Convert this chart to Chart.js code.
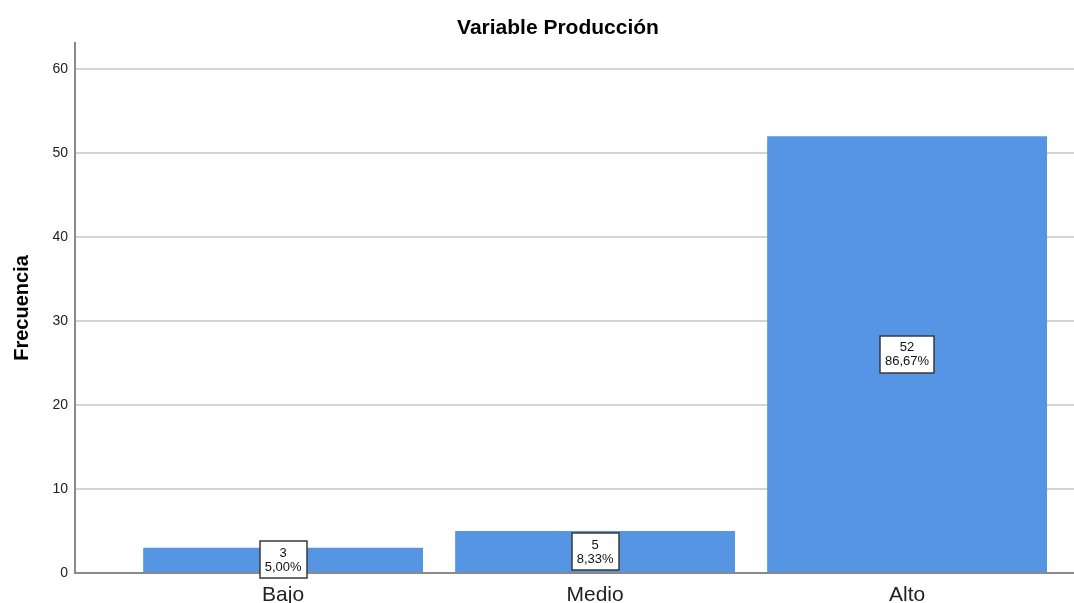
<!DOCTYPE html>
<html>
<head>
<meta charset="utf-8">
<title>Variable Producción</title>
<script src="https://cdn.jsdelivr.net/npm/chart.js@4.4.1/dist/chart.umd.min.js"></script>
<style>
  html, body { margin: 0; padding: 0; background: #ffffff; }
  #wrap { width: 1074px; height: 603px; position: relative; }
</style>
</head>
<body>
<div id="wrap"><canvas id="chart" width="1074" height="603"></canvas></div>
<script>
// Frequency table for "Variable Producción"
const categories = ['Bajo', 'Medio', 'Alto'];
const frecuencias = [3, 5, 52];
const yTicks = [0, 10, 20, 30, 40, 50, 60];
const chartTitle = 'Variable Producción';
const yTitle = 'Frecuencia';

const FONT = "'Liberation Sans', Arial, Helvetica, sans-serif";
const total = frecuencias.reduce((a, b) => a + b, 0);

function pctText(v) {
  return (v / total * 100).toFixed(2).replace('.', ',') + '%';
}

// Boxed count/percentage label at the middle of each bar
const barLabels = {
  id: 'barLabels',
  afterDatasetsDraw(chart) {
    const ctx = chart.ctx;
    const meta = chart.getDatasetMeta(0);
    ctx.save();
    ctx.font = '13px ' + FONT;
    ctx.textAlign = 'center';
    ctx.textBaseline = 'middle';
    meta.data.forEach((bar, i) => {
      const v = frecuencias[i];
      const l1 = String(v);
      const l2 = pctText(v);
      const w = Math.max(ctx.measureText(l1).width, ctx.measureText(l2).width) + 10;
      const h = 37;
      const cx = bar.x;
      const cy = (bar.y + bar.base) / 2;
      const x0 = Math.round(cx - w / 2), y0 = Math.round(cy - h / 2);
      ctx.fillStyle = '#ffffff';
      ctx.fillRect(x0, y0, Math.round(w), h);
      ctx.strokeStyle = '#3a3a3a';
      ctx.lineWidth = 1.5;
      ctx.strokeRect(x0, y0, Math.round(w), h);
      ctx.fillStyle = '#111111';
      ctx.fillText(l1, cx, cy - 6.5);
      ctx.fillText(l2, cx, cy + 7.5);
    });
    ctx.restore();
  }
};

// Chart heading
const heading = {
  id: 'heading',
  afterDraw(chart) {
    const ctx = chart.ctx;
    ctx.save();
    ctx.font = 'bold 21px ' + FONT;
    ctx.fillStyle = '#000000';
    ctx.textAlign = 'center';
    ctx.textBaseline = 'alphabetic';
    ctx.fillText(chartTitle, 558, 34);
    ctx.restore();
  }
};

new Chart(document.getElementById('chart'), {
  type: 'bar',
  data: {
    datasets: [{
      label: yTitle,
      data: frecuencias.map((v, i) => ({ x: i, y: v })),
      backgroundColor: '#5595e3',
      borderWidth: 0,
      categoryPercentage: 1,
      barPercentage: 0.897
    }]
  },
  options: {
    responsive: false,
    animation: false,
    events: [],
    layout: { padding: { top: 43, right: 0, bottom: 0, left: 0 } },
    plugins: {
      legend: { display: false },
      tooltip: { enabled: false },
      title: { display: false }
    },
    scales: {
      x: {
        type: 'linear',
        offset: false,
        min: -0.667,
        max: 2.535,
        afterFit(scale) { scale.height = 30; },
        afterBuildTicks(scale) {
          scale.ticks = categories.map((c, i) => ({ value: i }));
        },
        grid: { display: false, drawTicks: false, offset: false },
        border: { display: true, color: '#8a8a8a', width: 2 },
        ticks: {
          autoSkip: false,
          maxRotation: 0,
          padding: 10,
          color: '#222222',
          font: { family: FONT, size: 21 },
          callback: (v) => categories[v] !== undefined ? categories[v] : ''
        }
      },
      y: {
        min: 0,
        max: 63.1,
        afterFit(scale) { scale.width = 75; },
        afterBuildTicks(scale) {
          scale.ticks = yTicks.map(v => ({ value: v }));
        },
        grid: {
          color: (c) => c.tick && c.tick.value === 0 ? 'rgba(0,0,0,0)' : '#d4d4d4',
          lineWidth: 2,
          drawTicks: false
        },
        border: { display: true, color: '#8a8a8a', width: 2 },
        ticks: {
          padding: 7,
          color: '#222222',
          font: { family: FONT, size: 14 }
        },
        title: {
          display: true,
          text: yTitle,
          color: '#000000',
          font: { family: FONT, size: 20, weight: 'bold' },
          padding: { top: 10, bottom: 0 }
        }
      }
    }
  },
  plugins: [barLabels, heading]
});
</script>
</body>
</html>
